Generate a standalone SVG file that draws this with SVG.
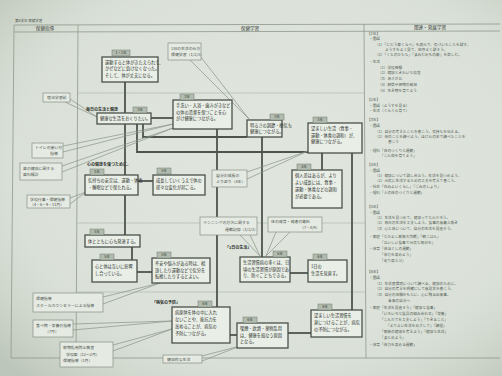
<svg xmlns="http://www.w3.org/2000/svg" width="502" height="376" viewBox="0 0 502 376">
<defs>
<radialGradient id="vig" cx="0.55" cy="0.45" r="0.75">
<stop offset="0" stop-color="#e3e9e1" stop-opacity="0"/>
<stop offset="0.7" stop-color="#c9d1c6" stop-opacity="0.25"/>
<stop offset="1" stop-color="#aeb8ab" stop-opacity="0.7"/>
</radialGradient>
<style>
.tbl{stroke:#8f988d;stroke-width:0.8;fill:none}
.row{stroke:#aab2a8;stroke-width:0.6;fill:none}
.box{fill:#e9eee7;stroke:#4b514a;stroke-width:1.3}
.lbl{fill:#e5eae3;stroke:#879085;stroke-width:0.7}
.tag{fill:#b2bcae;stroke:#6f776e;stroke-width:0.5}
.t{font-family:"Noto Sans CJK JP","Noto Sans CJK SC",sans-serif;font-size:4.2px;fill:#2c312c}
.tl{font-family:"Noto Sans CJK JP","Noto Sans CJK SC",sans-serif;font-size:3.9px;fill:#4a514a}
.tg{font-family:"Noto Sans CJK JP","Noto Sans CJK SC",sans-serif;font-size:3.6px;fill:#3a403a;text-anchor:middle}
.hd{font-family:"Noto Sans CJK JP","Noto Sans CJK SC",sans-serif;font-size:4.6px;fill:#3c433c;text-anchor:middle}
.cap{font-family:"Noto Sans CJK JP","Noto Sans CJK SC",sans-serif;font-size:4px;fill:#2c312c;font-weight:bold}
.r{font-family:"Noto Sans CJK JP","Noto Sans CJK SC",sans-serif;font-size:3.7px;fill:#545c54}
.conn{stroke:#4d544d;stroke-width:1.8;fill:none}
.call{stroke:#8a9388;stroke-width:0.7;fill:none}
</style>
</defs>
<rect x="0" y="0" width="502" height="376" fill="#dfe5dd"/>
<rect x="0" y="0" width="502" height="376" fill="url(#vig)"/>

<g id="table">
<text x="15" y="22" class="tl" style="font-size:3.5px">第6学年 保健学習</text>
<line x1="14" y1="25" x2="500" y2="24" class="tbl"/>
<line x1="14" y1="32" x2="500" y2="31" class="tbl"/>
<line x1="14" y1="25" x2="11" y2="358" class="tbl"/>
<line x1="78" y1="25" x2="76" y2="358" class="tbl"/>
<line x1="364" y1="24" x2="366" y2="358" class="tbl"/>
<line x1="11" y1="358" x2="500" y2="358" class="tbl"/>
<line x1="78" y1="93" x2="364" y2="93" class="row"/>
<line x1="77" y1="223" x2="365" y2="223" class="row"/>
<line x1="77" y1="292" x2="365" y2="292" class="row"/>
<text x="45" y="30" class="hd">保健指導</text>
<text x="250" y="30" class="hd">保健学習</text>
<text x="430" y="29" class="hd">関連・発展学習</text>
</g>

<g id="connectors">
<line x1="125" y1="82" x2="125" y2="113" class="conn"/>
<line x1="125" y1="124" x2="125" y2="175" class="conn"/>
<line x1="125" y1="195" x2="125" y2="235" class="conn"/>
<line x1="132" y1="247" x2="132" y2="260" class="conn"/>
<line x1="151" y1="118" x2="173" y2="118" class="conn"/>
<polyline points="137,124 137,152 308,152" class="conn"/>
<polyline points="143,124 143,137 247,137" class="conn"/>
<line x1="217" y1="129" x2="217" y2="307" class="conn"/>
<line x1="262" y1="137" x2="262" y2="257" class="conn"/>
<line x1="322" y1="153" x2="322" y2="170" class="conn"/>
<line x1="352" y1="153" x2="352" y2="310" class="conn"/>
<line x1="138" y1="181" x2="153" y2="181" class="conn"/>
<line x1="137" y1="272" x2="152" y2="272" class="conn"/>
<line x1="290" y1="273" x2="308" y2="273" class="conn"/>
<line x1="230" y1="335" x2="237" y2="335" class="conn"/>
<line x1="288" y1="333" x2="311" y2="333" class="conn"/>
<polyline points="190,60 249,119 200,56" class="call"/>
<polyline points="65,102 97,117 70,99" class="call"/>
<polyline points="63,146 173,124 63,152" class="call"/>
<polyline points="62,166 173,128 62,172" class="call"/>
<polyline points="70,198 86,192 70,204" class="call"/>
<polyline points="247,172 308,151 247,179" class="call"/>
<polyline points="240,235 260,256 250,235" class="call"/>
<polyline points="276,232 266,256 290,232" class="call"/>
<polyline points="103,297 160,283 103,304" class="call"/>
<polyline points="73,324 172,321 73,330" class="call"/>
<polyline points="113,345 172,329 113,351" class="call"/>
<polyline points="202,356 240,346 202,361" class="call"/>
</g>

<g id="n1">
<rect x="102" y="57" width="56" height="25" class="box"/>
<rect x="112" y="50" width="18" height="6" class="tag"/><text x="121" y="54.4" class="tg">1・2年</text>
<text x="105" y="63.5" class="t">運動すると体がきたえられて、</text>
<text x="105" y="70" class="t">かぜなどに負けなくなった。</text>
<text x="105" y="76.5" class="t">そして、体が丈夫になる。</text>
</g>
<g id="n2">
<text x="86" y="110.5" class="cap">毎日の生活と健康</text>
<rect x="97" y="113" width="54" height="11" class="box"/>
<rect x="133" y="107" width="14" height="6" class="tag"/><text x="140" y="111.4" class="tg">3年</text>
<text x="100" y="120.3" class="t">健康な生活をおくりたい。</text>
</g>
<g id="n3">
<rect x="173" y="100" width="59" height="29" class="box"/>
<rect x="180" y="94" width="14" height="6" class="tag"/><text x="187" y="98.4" class="tg">3年</text>
<text x="176" y="107" class="t">手洗い・入浴・歯みがきなど</text>
<text x="176" y="113.5" class="t">の体の清潔を保つことを心</text>
<text x="176" y="120" class="t">がけ健康につながる。</text>
</g>
<g id="n4">
<rect x="168" y="43" width="33" height="17" class="lbl"/>
<text x="171" y="50" class="tl">1日の生活の仕方</text>
<text x="171" y="56" class="tl">保健学習（1/2/3）</text>
</g>
<g id="n5">
<rect x="247" y="120" width="35" height="17" class="box"/>
<rect x="270" y="114" width="14" height="6" class="tag"/><text x="277" y="118.4" class="tg">3年</text>
<text x="250" y="127" class="t">明るさの調節・換気も</text>
<text x="250" y="133" class="t">健康につながる。</text>
</g>
<g id="n6">
<rect x="308" y="123" width="54" height="30" class="box"/>
<rect x="313" y="117" width="14" height="6" class="tag"/><text x="320" y="121.4" class="tg">3年</text>
<text x="311" y="130" class="t">望ましい生活（食事・</text>
<text x="311" y="136.5" class="t">運動・休養の調和）が、</text>
<text x="311" y="143" class="t">健康につながる。</text>
</g>
<g id="n7">
<rect x="292" y="170" width="50" height="38" class="box"/>
<rect x="297" y="164" width="14" height="6" class="tag"/><text x="304" y="168.4" class="tg">4年</text>
<text x="295" y="177" class="t">個人差はあるが、より</text>
<text x="295" y="184" class="t">よい成長には、食事・</text>
<text x="295" y="191" class="t">運動・休養などの調和</text>
<text x="295" y="198" class="t">が必要である。</text>
</g>
<g id="n8">
<rect x="268" y="217" width="54" height="15" class="lbl"/>
<text x="271" y="223" class="tl">体の発育・発達の資料</text>
<text x="300" y="229" class="tl">（7・8/9）</text>
</g>
<g id="n9">
<text x="87" y="166" class="cap">心の健康を保つために。</text>
<rect x="85" y="175" width="53" height="20" class="box"/>
<rect x="90" y="169" width="14" height="6" class="tag"/><text x="97" y="173.4" class="tg">5年</text>
<text x="88" y="182" class="t">気持ちの安定は、運動・休養</text>
<text x="88" y="189" class="t">・睡眠などで保たれる。</text>
</g>
<g id="n10">
<rect x="153" y="175" width="52" height="20" class="box"/>
<rect x="157" y="168" width="14" height="6" class="tag"/><text x="164" y="172.4" class="tg">5年</text>
<text x="156" y="182" class="t">成長していくうえで体の</text>
<text x="156" y="189" class="t">様々な変化が起こる。</text>
</g>
<g id="n11">
<rect x="212" y="170" width="35" height="17" class="lbl"/>
<text x="216" y="177" class="tl">自分の成長の</text>
<text x="216" y="183" class="tl">ふり返り（4年）</text>
</g>
<g id="n12">
<rect x="200" y="217" width="57" height="18" class="lbl"/>
<text x="203" y="224" class="tl">ランニングの方法に関する</text>
<text x="225" y="231" class="tl">運動記録（1/2/3）</text>
</g>
<g id="n13">
<rect x="85" y="235" width="55" height="12" class="box"/>
<rect x="90" y="229" width="14" height="6" class="tag"/><text x="97" y="233.4" class="tg">5年</text>
<text x="88" y="242.8" class="t">体とともに心も発達する。</text>
</g>
<g id="n14">
<rect x="92" y="260" width="45" height="22" class="box"/>
<rect x="100" y="254" width="14" height="6" class="tag"/><text x="107" y="258.4" class="tg">5年</text>
<text x="95" y="268" class="t">心と体は互いに影響</text>
<text x="95" y="275" class="t">し合っている。</text>
</g>
<g id="n15">
<rect x="152" y="258" width="58" height="25" class="box"/>
<rect x="157" y="252" width="14" height="6" class="tag"/><text x="164" y="256.4" class="tg">5年</text>
<text x="155" y="265" class="t">不安や悩みがある時は、相</text>
<text x="155" y="271.5" class="t">談したり運動などで気分を</text>
<text x="155" y="278" class="t">転換したりするとよい。</text>
</g>
<g id="n16">
<text x="225" y="249" class="cap">「1日の生活」</text>
<rect x="240" y="257" width="50" height="25" class="box"/>
<rect x="273" y="251" width="14" height="6" class="tag"/><text x="280" y="255.4" class="tg">6年</text>
<text x="243" y="264" class="t">生活習慣病の多くは、日</text>
<text x="243" y="270.5" class="t">頃の生活習慣が原因であ</text>
<text x="243" y="277" class="t">り、防ぐこともできる。</text>
</g>
<g id="n17">
<rect x="308" y="260" width="39" height="22" class="box"/>
<rect x="313" y="254" width="14" height="6" class="tag"/><text x="320" y="258.4" class="tg">6年</text>
<text x="311" y="268" class="t">1日の</text>
<text x="311" y="275" class="t">生活を見直す。</text>
</g>
<g id="n18">
<text x="152" y="304" class="cap">「病気の予防」</text>
<rect x="172" y="307" width="58" height="36" class="box"/>
<rect x="198" y="301" width="14" height="6" class="tag"/><text x="205" y="305.4" class="tg">6年</text>
<text x="175" y="314" class="t">病原体を体の中に入れ</text>
<text x="175" y="321" class="t">ないことや、抵抗力を</text>
<text x="175" y="328" class="t">高めることが、病気の</text>
<text x="175" y="335" class="t">予防につながる。</text>
</g>
<g id="n19">
<rect x="237" y="323" width="51" height="25" class="box"/>
<rect x="243" y="317" width="14" height="6" class="tag"/><text x="250" y="321.4" class="tg">6年</text>
<text x="240" y="330" class="t">喫煙・飲酒・薬物乱用</text>
<text x="240" y="336.5" class="t">は、健康を損なう原因</text>
<text x="240" y="343" class="t">となる。</text>
</g>
<g id="n20">
<rect x="311" y="310" width="51" height="27" class="box"/>
<rect x="318" y="304" width="14" height="6" class="tag"/><text x="325" y="308.4" class="tg">6年</text>
<text x="314" y="317" class="t">望ましい生活習慣を</text>
<text x="314" y="324" class="t">身につけることが、病気</text>
<text x="314" y="331" class="t">の予防につながる。</text>
</g>
<g id="n21">
<rect x="163" y="355" width="39" height="8" class="lbl"/>
<text x="167" y="360.5" class="tl">健康的な生活</text>
</g>
<g id="L1">
<rect x="43" y="93" width="27" height="9" class="lbl"/>
<text x="47" y="99" class="tl">宿泊学習前</text>
</g>
<g id="L2">
<rect x="32" y="143" width="31" height="15" class="lbl"/>
<text x="35" y="149" class="tl">トイレの使い方</text>
<text x="50" y="155" class="tl">指導</text>
</g>
<g id="L3">
<rect x="20" y="163" width="42" height="17" class="lbl"/>
<text x="23" y="170" class="tl">歯の健康に関する</text>
<text x="23" y="176" class="tl">歯科検診</text>
</g>
<g id="L4">
<rect x="27" y="195" width="43" height="13" class="lbl"/>
<text x="30" y="200.5" class="tl">学校行事・保健指導</text>
<text x="30" y="206" class="tl">（4・6・9・11月）</text>
</g>
<g id="L5">
<rect x="33" y="293" width="70" height="19" class="lbl"/>
<text x="36" y="300" class="tl">保健指導</text>
<text x="36" y="307" class="tl">スクールカウンセラーによる指導</text>
</g>
<g id="L6">
<rect x="33" y="320" width="40" height="17" class="lbl"/>
<text x="36" y="326.5" class="tl">食べ物・栄養の指導</text>
<text x="45" y="333" class="tl">（7月）</text>
</g>
<g id="L7">
<rect x="60" y="342" width="53" height="25" class="lbl"/>
<text x="63" y="349" class="tl">薬物乱用防止教室</text>
<text x="66" y="355.5" class="tl">学校医（12～2月）</text>
<text x="63" y="362" class="tl">保健指導（1月）</text>
</g>

<g id="related">
<text x="367" y="35" class="r">【1年】</text>
<text x="369" y="40" class="r">・国語</text>
<text x="375" y="46" class="r">（1）「じどう車くらべ」を読んで、気づいたことを話す。</text>
<text x="385" y="51" class="r">ようすをよく見て、順序よく話そう。</text>
<text x="375" y="56" class="r">（2）「くちのかたち」「まみむめもの歌」を楽しむ。</text>
<text x="369" y="63" class="r">・生活</text>
<text x="378" y="69" class="r">（1）学校探検</text>
<text x="378" y="74" class="r">（2）健康ときれいな校舎</text>
<text x="378" y="80" class="r">（3）あさがお</text>
<text x="378" y="86" class="r">（4）野菜や植物の栽培</text>
<text x="378" y="92" class="r">（5）生き物を育てよう</text>
<text x="367" y="101" class="r">【2年】</text>
<text x="369" y="107" class="r">・国語（ようすを見る）</text>
<text x="369" y="112" class="r">・生活（ぐんぐん育て）</text>
<text x="367" y="121" class="r">【3年】</text>
<text x="369" y="127" class="r">・国語</text>
<text x="375" y="133" class="r">（1）自分の考えたことを書こう。気持ちを伝える。</text>
<text x="375" y="138" class="r">（2）体のことを調べよう。ほけんの本で調べたことを</text>
<text x="388" y="143" class="r">書こう</text>
<text x="369" y="152" class="r">・理科「体のつくりと運動」</text>
<text x="380" y="157" class="r">「こん虫を育てよう」</text>
<text x="367" y="166" class="r">【4年】</text>
<text x="369" y="172" class="r">・国語</text>
<text x="375" y="177" class="r">（1）健康について話し合おう。生活を見つめよう。</text>
<text x="375" y="182" class="r">（2）元気に生活するための工夫を考えて書こう。</text>
<text x="369" y="188" class="r">・社会「住みよいくらし」「ごみのしょり」</text>
<text x="369" y="194" class="r">・理科「人の体のつくりと運動」</text>
<text x="367" y="208" class="r">【5年】</text>
<text x="369" y="214" class="r">・国語</text>
<text x="375" y="219" class="r">（1）生活を見つめて、健康ってなんだろう。</text>
<text x="375" y="224" class="r">（2）毎日の生活を工夫しよう。食事の意義と働き</text>
<text x="375" y="230" class="r">（3）心と体について、自分の生活を見直そう。</text>
<text x="369" y="238" class="r">・家庭「なかよし家族大作戦」「朝ごはん」</text>
<text x="380" y="244" class="r">「おいしい食事で元気な毎日を」</text>
<text x="369" y="250" class="r">・体育「体ほぐしの運動」</text>
<text x="380" y="256" class="r">「体力を高めよう」</text>
<text x="380" y="262" class="r">「走り高とび」</text>
<text x="367" y="273" class="r">【6年】</text>
<text x="369" y="279" class="r">・国語</text>
<text x="375" y="285" class="r">（1）生活習慣病について調べる。健康のために。</text>
<text x="375" y="290" class="r">（2）自分の考えを明確にして意見文を書こう。</text>
<text x="375" y="296" class="r">（3）自分の体験をもとに、心に残る出来事。</text>
<text x="388" y="302" class="r">未来の自分へ</text>
<text x="369" y="309" class="r">・家庭「生活を見直そう」「健康な食事」</text>
<text x="380" y="315" class="r">「いろいろな食品の組み合わせ」「栄養」</text>
<text x="380" y="321" class="r">「こんだてを工夫しよう」「できること」</text>
<text x="386" y="327" class="r">「よりよい生活をめざして」「調理」</text>
<text x="380" y="333" class="r">「家族の健康を考えよう」「健康な生活」</text>
<text x="380" y="339" class="r">「まとめよう」</text>
<text x="369" y="346" class="r">・体育「体力を高める運動」</text>
</g>
</svg>
